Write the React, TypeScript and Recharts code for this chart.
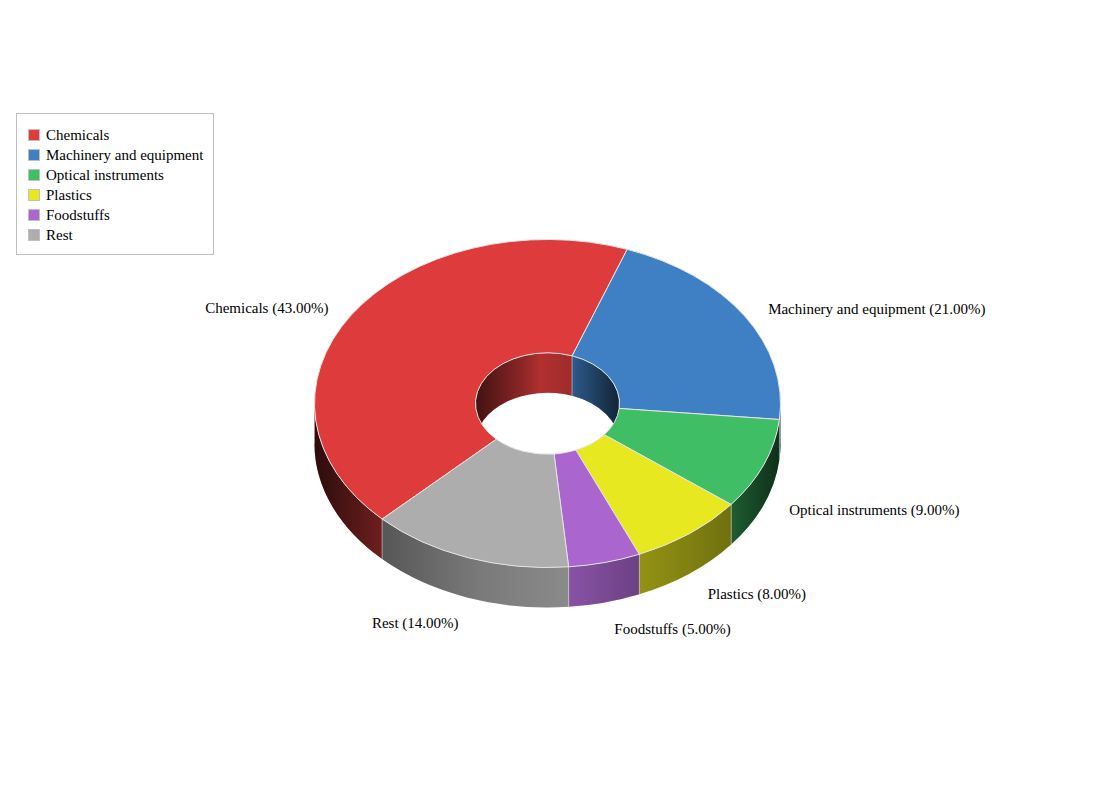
import React from 'react';
import { PieChart, Pie, Legend } from 'recharts';

const categories = ['Chemicals', 'Machinery and equipment', 'Optical instruments', 'Plastics', 'Foodstuffs', 'Rest'];
const shares = [43, 21, 9, 8, 5, 14];
const colors = ['#DE3C3C', '#3F80C4', '#3FBE66', '#E8E820', '#AA66CE', '#ADADAD'];

const data = categories.map((name, i) => ({ name, value: shares[i], fill: colors[i] }));

const CX = 547.5;
const CY = 403.5;
const OUTER = 233;
const INNER = 72;
const SQUASH = 0.704;
const DEPTH = 40;
const FONT = '"Liberation Serif", "Times New Roman", serif';

const pt = (r: number, deg: number, drop = 0) => {
  const a = (deg * Math.PI) / 180;
  return `${CX + r * Math.cos(a)} ${CY - r * SQUASH * Math.sin(a) + drop}`;
};

// elliptical arc going clockwise on screen (from > to) or back
const arc = (r: number, from: number, to: number, drop = 0) => {
  const large = Math.abs(from - to) > 180 ? 1 : 0;
  const sweep = from > to ? 1 : 0;
  return `A ${r} ${r * SQUASH} 0 ${large} ${sweep} ${pt(r, to, drop)}`;
};

const overlap = (start: number, end: number, hi: number, lo: number) => {
  const a = Math.min(start, hi);
  const b = Math.max(end, lo);
  return a > b ? [a, b] : null;
};

const wall = (r: number, a: number, b: number, gradient: string, fill: string) => {
  const d = `M ${pt(r, a)} ${arc(r, a, b)} L ${pt(r, b, DEPTH)} ${arc(r, b, a, DEPTH)} Z`;
  return (
    <g key={`${r}-${a}`}>
      <path d={d} fill={fill} />
      <path d={d} fill={`url(#${gradient})`} />
      <path d={`M ${pt(r, a)} L ${pt(r, a, DEPTH)} M ${pt(r, b)} L ${pt(r, b, DEPTH)}`} stroke="#fff" strokeOpacity={0.3} strokeWidth={1} />
    </g>
  );
};

// the sides of a slice: outer rim on the near half, hole wall on the far half
const SliceWalls = (props: any) => {
  const { startAngle, endAngle, fill } = props;
  const start = Math.max(startAngle, endAngle);
  const end = Math.min(startAngle, endAngle);
  const parts: React.ReactNode[] = [];
  [overlap(start, end, 360, 180), overlap(start, end, 0, -180)].forEach((o) => {
    if (o) parts.push(wall(OUTER, o[0], o[1], 'outerShade', fill));
  });
  const up = overlap(start, end, 180, 0);
  if (up) parts.push(wall(INNER, up[0], up[1], 'innerShade', fill));
  return <g>{parts}</g>;
};

const SliceTop = (props: any) => {
  const { startAngle, endAngle, fill } = props;
  const a = Math.max(startAngle, endAngle);
  const b = Math.min(startAngle, endAngle);
  const d = `M ${pt(OUTER, a)} ${arc(OUTER, a, b)} L ${pt(INNER, b)} ${arc(INNER, b, a)} Z`;
  return <path d={d} fill={fill} stroke="#e4e4e4" strokeWidth={1} strokeLinejoin="round" />;
};

const renderLabel = (props: any) => {
  const { midAngle, name, percent } = props;
  const a = (midAngle * Math.PI) / 180;
  const c = Math.cos(a);
  const s = Math.sin(a);
  const x = CX + 260 * c + (c > 0 ? 4 * (1 - c) : 0);
  const y = s > 0 ? CY - 178 * s : CY - 199 * s + 33;
  return (
    <text x={x} y={y} dy="0.33em" textAnchor={c > 0 ? 'start' : 'end'} fontFamily={FONT} fontSize={15} fill="#000">
      {`${name} (${(percent * 100).toFixed(2)}%)`}
    </text>
  );
};

const renderLegend = () => (
  <div style={{ boxSizing: 'border-box', width: 198, height: 142, border: '1px solid #c0c0c0', background: '#fff', padding: '11px 0 0 11px', fontFamily: FONT, fontSize: 15, color: '#000' }}>
    {data.map((item) => (
      <div key={item.name} style={{ display: 'flex', alignItems: 'center', height: 20, whiteSpace: 'nowrap' }}>
        <span style={{ boxSizing: 'border-box', width: 12, height: 12, background: item.fill, border: '1px solid #c0c0c0', marginRight: 6 }} />
        {item.name}
      </div>
    ))}
  </div>
);

const shadeStops = [
  [0, 0.8],
  [0.146, 0.5],
  [0.35, 0.3],
  [0.547, 0.2],
  [0.7, 0.37],
  [0.898, 0.52],
  [1, 0.76],
];

const innerStops = [
  [0, 0.7],
  [0.3, 0.4],
  [0.45, 0.2],
  [0.66, 0.28],
  [1, 0.72],
];

export default function App() {
  return (
    <div style={{ position: 'absolute', left: 0, top: 0, width: 1095, height: 805 }}>
      <PieChart width={1095} height={805} margin={{ top: 0, right: 0, bottom: 0, left: 0 }}>
        <defs>
          <linearGradient id="outerShade" gradientUnits="userSpaceOnUse" x1={CX - OUTER} x2={CX + OUTER} y1={0} y2={0}>
            {shadeStops.map(([o, k]) => (
              <stop key={o} offset={o} stopColor="#000" stopOpacity={k} />
            ))}
          </linearGradient>
          <linearGradient id="innerShade" gradientUnits="userSpaceOnUse" x1={CX - INNER} x2={CX + INNER} y1={0} y2={0}>
            {innerStops.map(([o, k]) => (
              <stop key={o} offset={o} stopColor="#000" stopOpacity={k} />
            ))}
          </linearGradient>
        </defs>
        <Pie
          data={data}
          dataKey="value"
          nameKey="name"
          cx={CX}
          cy={CY}
          innerRadius={INNER}
          outerRadius={OUTER}
          startAngle={224.8}
          endAngle={-135.2}
          shape={SliceWalls}
          legendType="none"
          isAnimationActive={false}
        />
        <Pie
          data={data}
          dataKey="value"
          nameKey="name"
          cx={CX}
          cy={CY}
          innerRadius={INNER}
          outerRadius={OUTER}
          startAngle={224.8}
          endAngle={-135.2}
          shape={SliceTop}
          label={renderLabel}
          labelLine={false}
          isAnimationActive={false}
        />
        <Legend content={renderLegend} wrapperStyle={{ position: 'absolute', left: 16, top: 113, width: 198, height: 142 }} />
      </PieChart>
    </div>
  );
}
